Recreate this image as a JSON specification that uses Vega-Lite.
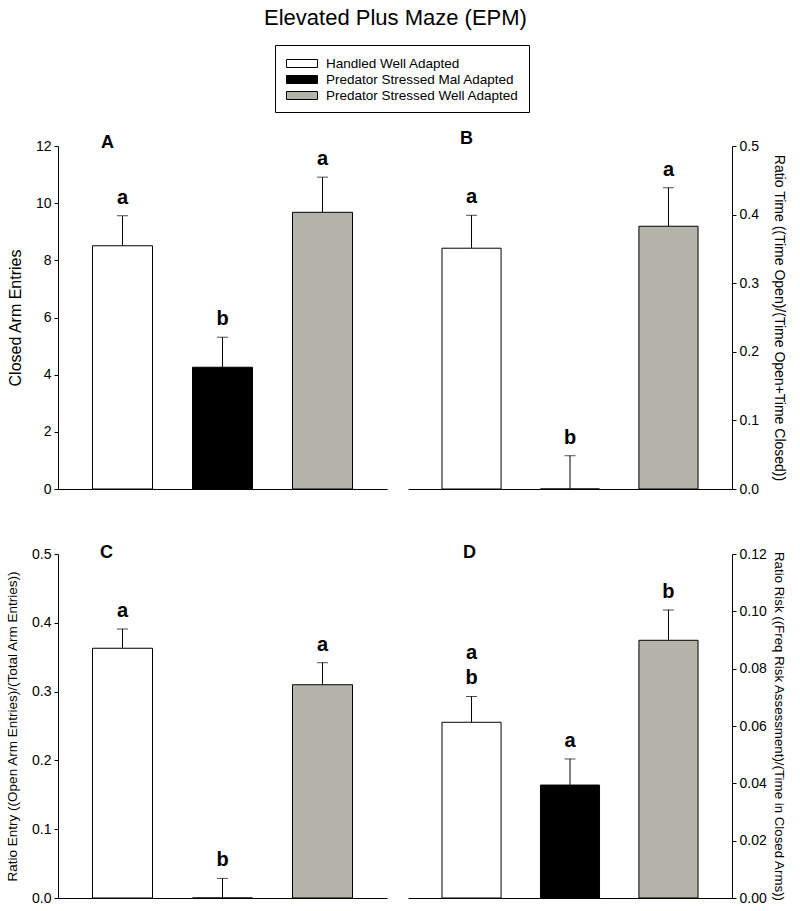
{
  "$schema": "https://vega.github.io/schema/vega-lite/v6.json",
  "title": {"text": "Elevated Plus Maze (EPM)", "fontSize": 22, "fontWeight": "normal", "anchor": "middle", "offset": 15, "color": "black", "font": "Liberation Sans"},
  "padding": {"left": 5, "top": 6, "right": 5, "bottom": 5},
  "datasets": {
    "bars": [
      {"panel": "A", "group": "Handled Well Adapted", "mean": 8.51, "upper": 9.56, "letter": "a", "letter2": ""},
      {"panel": "A", "group": "Predator Stressed Mal Adapted", "mean": 4.26, "upper": 5.31, "letter": "b", "letter2": ""},
      {"panel": "A", "group": "Predator Stressed Well Adapted", "mean": 9.68, "upper": 10.91, "letter": "a", "letter2": ""},
      {"panel": "B", "group": "Handled Well Adapted", "mean": 0.351, "upper": 0.399, "letter": "a", "letter2": ""},
      {"panel": "B", "group": "Predator Stressed Mal Adapted", "mean": 0.0, "upper": 0.0485, "letter": "b", "letter2": ""},
      {"panel": "B", "group": "Predator Stressed Well Adapted", "mean": 0.383, "upper": 0.439, "letter": "a", "letter2": ""},
      {"panel": "C", "group": "Handled Well Adapted", "mean": 0.363, "upper": 0.391, "letter": "a", "letter2": ""},
      {"panel": "C", "group": "Predator Stressed Mal Adapted", "mean": 0.0, "upper": 0.0285, "letter": "b", "letter2": ""},
      {"panel": "C", "group": "Predator Stressed Well Adapted", "mean": 0.31, "upper": 0.342, "letter": "a", "letter2": ""},
      {"panel": "D", "group": "Handled Well Adapted", "mean": 0.0613, "upper": 0.0703, "letter": "b", "letter2": "a"},
      {"panel": "D", "group": "Predator Stressed Mal Adapted", "mean": 0.0394, "upper": 0.0485, "letter": "a", "letter2": ""},
      {"panel": "D", "group": "Predator Stressed Well Adapted", "mean": 0.0899, "upper": 0.1005, "letter": "b", "letter2": ""}
    ]
  },
  "data": {"name": "bars"},
  "vconcat": [
    {
      "hconcat": [
        {
          "width": 329, "height": 343,
          "transform": [{"filter": "datum.panel === 'A'"}],
          "encoding": {"x": {"field": "group", "type": "nominal", "sort": null, "scale": {"domain": ["Handled Well Adapted", "Predator Stressed Mal Adapted", "Predator Stressed Well Adapted"], "paddingInner": 0.4, "paddingOuter": 0.345}, "axis": {"title": null, "labels": false, "ticks": false}}},
          "layer": [
            {"mark": {"type": "rule", "color": "black", "strokeWidth": 1},
             "encoding": {"y": {"field": "mean", "type": "quantitative", "scale": {"domain": [0, 12], "nice": false}, "axis": {"title": "Closed Arm Entries", "orient": "left", "values": [0, 2, 4, 6, 8, 10, 12], "titleFontSize": 16, "titlePadding": 12}}, "y2": {"field": "upper"}}},
            {"mark": {"type": "tick", "color": "black", "size": 11, "thickness": 1}, "encoding": {"y": {"field": "upper", "type": "quantitative"}}},
            {"mark": {"type": "bar", "stroke": "black", "strokeWidth": 1}, "encoding": {"y": {"field": "mean", "type": "quantitative"}, "fill": {"field": "group", "type": "nominal", "scale": {"domain": ["Handled Well Adapted", "Predator Stressed Mal Adapted", "Predator Stressed Well Adapted"], "range": ["white", "black", "#b4b4a8"]}}}},
            {"mark": {"type": "text", "fontSize": 20, "fontWeight": "bold", "baseline": "bottom", "dy": -8, "color": "black"}, "encoding": {"y": {"field": "upper", "type": "quantitative"}, "text": {"field": "letter"}}},
            {"transform": [{"filter": "datum.group === 'Handled Well Adapted'"}], "mark": {"type": "text", "fontSize": 18, "fontWeight": "bold", "baseline": "middle", "dx": -15, "dy": -3, "color": "black"}, "encoding": {"y": {"datum": 12, "type": "quantitative"}, "text": {"value": "A"}}}
          ]
        },
        {
          "width": 324, "height": 343,
          "transform": [{"filter": "datum.panel === 'B'"}],
          "encoding": {"x": {"field": "group", "type": "nominal", "sort": null, "scale": {"domain": ["Handled Well Adapted", "Predator Stressed Mal Adapted", "Predator Stressed Well Adapted"], "paddingInner": 0.4, "paddingOuter": 0.345}, "axis": {"title": null, "labels": false, "ticks": false}}},
          "layer": [
            {"mark": {"type": "rule", "color": "black", "strokeWidth": 1},
             "encoding": {"y": {"field": "mean", "type": "quantitative", "scale": {"domain": [0, 0.5], "nice": false}, "axis": {"title": "Ratio Time ((Time Open)/(Time Open+Time Closed))", "orient": "right", "values": [0, 0.1, 0.2, 0.3, 0.4, 0.5], "format": ".1f", "titleFontSize": 14, "titlePadding": 13}}, "y2": {"field": "upper"}}},
            {"mark": {"type": "tick", "color": "black", "size": 11, "thickness": 1}, "encoding": {"y": {"field": "upper", "type": "quantitative"}}},
            {"mark": {"type": "bar", "stroke": "black", "strokeWidth": 1}, "encoding": {"y": {"field": "mean", "type": "quantitative"}, "fill": {"field": "group", "type": "nominal"}}},
            {"mark": {"type": "text", "fontSize": 20, "fontWeight": "bold", "baseline": "bottom", "dy": -8, "color": "black"}, "encoding": {"y": {"field": "upper", "type": "quantitative"}, "text": {"field": "letter"}}},
            {"transform": [{"filter": "datum.group === 'Handled Well Adapted'"}], "mark": {"type": "text", "fontSize": 18, "fontWeight": "bold", "baseline": "middle", "dx": -5, "dy": -7, "color": "black"}, "encoding": {"y": {"datum": 0.5, "type": "quantitative"}, "text": {"value": "B"}}}
          ]
        }
      ],
      "spacing": 21
    },
    {
      "hconcat": [
        {
          "width": 329, "height": 344,
          "transform": [{"filter": "datum.panel === 'C'"}],
          "encoding": {"x": {"field": "group", "type": "nominal", "sort": null, "scale": {"domain": ["Handled Well Adapted", "Predator Stressed Mal Adapted", "Predator Stressed Well Adapted"], "paddingInner": 0.4, "paddingOuter": 0.345}, "axis": {"title": null, "labels": false, "ticks": false}}},
          "layer": [
            {"mark": {"type": "rule", "color": "black", "strokeWidth": 1},
             "encoding": {"y": {"field": "mean", "type": "quantitative", "scale": {"domain": [0, 0.5], "nice": false}, "axis": {"title": "Ratio Entry ((Open Arm Entries)/(Total Arm Entries))", "orient": "left", "values": [0, 0.1, 0.2, 0.3, 0.4, 0.5], "format": ".1f", "titleFontSize": 13.5, "titlePadding": 12}}, "y2": {"field": "upper"}}},
            {"mark": {"type": "tick", "color": "black", "size": 11, "thickness": 1}, "encoding": {"y": {"field": "upper", "type": "quantitative"}}},
            {"mark": {"type": "bar", "stroke": "black", "strokeWidth": 1}, "encoding": {"y": {"field": "mean", "type": "quantitative"}, "fill": {"field": "group", "type": "nominal"}}},
            {"mark": {"type": "text", "fontSize": 20, "fontWeight": "bold", "baseline": "bottom", "dy": -8, "color": "black"}, "encoding": {"y": {"field": "upper", "type": "quantitative"}, "text": {"field": "letter"}}},
            {"transform": [{"filter": "datum.group === 'Handled Well Adapted'"}], "mark": {"type": "text", "fontSize": 18, "fontWeight": "bold", "baseline": "middle", "dx": -16, "dy": -1, "color": "black"}, "encoding": {"y": {"datum": 0.5, "type": "quantitative"}, "text": {"value": "C"}}}
          ]
        },
        {
          "width": 324, "height": 344,
          "transform": [{"filter": "datum.panel === 'D'"}],
          "encoding": {"x": {"field": "group", "type": "nominal", "sort": null, "scale": {"domain": ["Handled Well Adapted", "Predator Stressed Mal Adapted", "Predator Stressed Well Adapted"], "paddingInner": 0.4, "paddingOuter": 0.345}, "axis": {"title": null, "labels": false, "ticks": false}}},
          "layer": [
            {"mark": {"type": "rule", "color": "black", "strokeWidth": 1},
             "encoding": {"y": {"field": "mean", "type": "quantitative", "scale": {"domain": [0, 0.12], "nice": false}, "axis": {"title": "Ratio Risk ((Freq Risk Assessment)/(Time in Closed Arms))", "orient": "right", "values": [0, 0.02, 0.04, 0.06, 0.08, 0.1, 0.12], "format": ".2f", "titleFontSize": 13.3, "titlePadding": 5}}, "y2": {"field": "upper"}}},
            {"mark": {"type": "tick", "color": "black", "size": 11, "thickness": 1}, "encoding": {"y": {"field": "upper", "type": "quantitative"}}},
            {"mark": {"type": "bar", "stroke": "black", "strokeWidth": 1}, "encoding": {"y": {"field": "mean", "type": "quantitative"}, "fill": {"field": "group", "type": "nominal"}}},
            {"mark": {"type": "text", "fontSize": 20, "fontWeight": "bold", "baseline": "bottom", "dy": -8, "color": "black"}, "encoding": {"y": {"field": "upper", "type": "quantitative"}, "text": {"field": "letter"}}},
            {"mark": {"type": "text", "fontSize": 20, "fontWeight": "bold", "baseline": "bottom", "dy": -33, "color": "black"}, "encoding": {"y": {"field": "upper", "type": "quantitative"}, "text": {"field": "letter2"}}},
            {"transform": [{"filter": "datum.group === 'Handled Well Adapted'"}], "mark": {"type": "text", "fontSize": 18, "fontWeight": "bold", "baseline": "middle", "dx": -2, "dy": -1, "color": "black"}, "encoding": {"y": {"datum": 0.12, "type": "quantitative"}, "text": {"value": "D"}}}
          ]
        }
      ],
      "spacing": 21
    }
  ],
  "spacing": 48,
  "config": {
    "font": "Liberation Sans",
    "view": {"stroke": null},
    "axis": {"domainColor": "black", "tickColor": "black", "labelColor": "black", "titleColor": "black", "grid": false, "labelFontSize": 14, "tickSize": 4, "labelPadding": 3, "titleFontWeight": "normal", "labelFont": "Liberation Sans", "titleFont": "Liberation Sans"},
    "legend": {"orient": "none", "legendX": 217, "legendY": -101, "title": null, "symbolType": "M-0.875,-0.5H3V0.5H-0.875Z", "symbolSize": 256, "symbolStrokeColor": "black", "symbolStrokeWidth": 1, "labelFontSize": 13.5, "labelOffset": 24, "labelColor": "black", "labelFont": "Liberation Sans", "strokeColor": "black", "padding": 10, "rowPadding": 1, "labelLimit": 400}
  }
}
